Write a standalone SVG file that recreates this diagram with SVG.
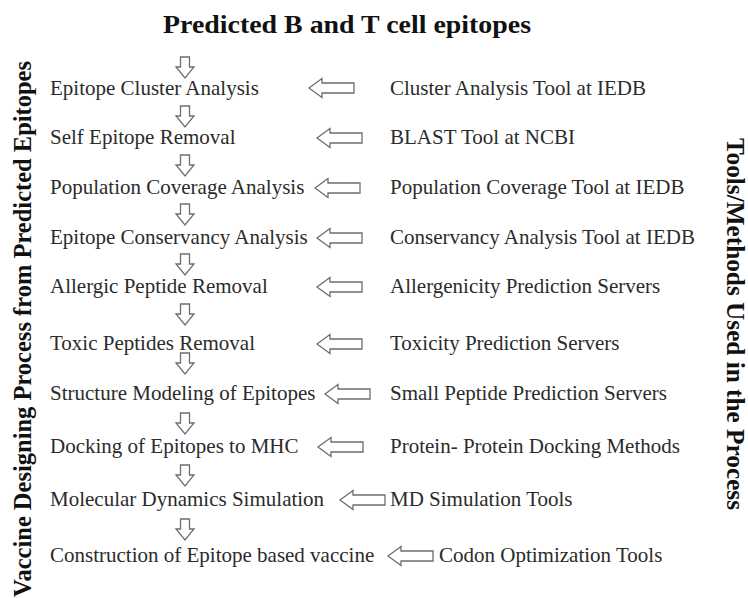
<svg xmlns="http://www.w3.org/2000/svg" xmlns:xlink="http://www.w3.org/1999/xlink" width="748" height="598" viewBox="0 0 748 598">
<style>
.title{font-family:"Liberation Serif","Times New Roman",serif;font-weight:bold;font-size:26px;fill:#111}
.side{font-family:"Liberation Serif","Times New Roman",serif;font-weight:bold;font-size:24.5px;fill:#111}
.lbl{font-family:"Liberation Serif","Times New Roman",serif;font-size:21px;fill:#2b2b2b}
.arr{fill:#fff;stroke:#6e6e6e;stroke-width:1.3;stroke-linejoin:miter}
</style>
<defs>
<path id="down" class="arr" d="M-4.5,0 H4.5 V10 H9 L0,21 L-9,10 H-4.5 Z"/>
<path id="left" class="arr" d="M0,0 L13,-9.5 L13,-5 L45,-5 L45,5 L13,5 L13,9.5 Z"/>
</defs>
<rect width="748" height="598" fill="#fff"/>
<text id="title" class="title" x="163" y="33" textLength="368" lengthAdjust="spacingAndGlyphs">Predicted B and T cell epitopes</text>
<text id="leftLabel" class="side" transform="translate(31,329) rotate(-90)" text-anchor="middle">Vaccine Designing Process from Predicted Epitopes</text>
<text id="rightLabel" class="side" transform="translate(727,324) rotate(90)" text-anchor="middle" textLength="372" lengthAdjust="spacingAndGlyphs">Tools/Methods Used in the Process</text>
<g id="connectors">
<use xlink:href="#down" x="185" y="57"/>
<use xlink:href="#down" x="185" y="106"/>
<use xlink:href="#down" x="185" y="155"/>
<use xlink:href="#down" x="185" y="204"/>
<use xlink:href="#down" x="185" y="254"/>
<use xlink:href="#down" x="185" y="304"/>
<use xlink:href="#down" x="185" y="353"/>
<use xlink:href="#down" x="185" y="413"/>
<use xlink:href="#down" x="185" y="465"/>
<use xlink:href="#down" x="185" y="519"/>
<use xlink:href="#left" x="309" y="88"/>
<use xlink:href="#left" x="317" y="138"/>
<use xlink:href="#left" x="315" y="188"/>
<use xlink:href="#left" x="317" y="238"/>
<use xlink:href="#left" x="317" y="287"/>
<use xlink:href="#left" x="317" y="344"/>
<use xlink:href="#left" x="325" y="394"/>
<use xlink:href="#left" x="318" y="447"/>
<use xlink:href="#left" x="340" y="500"/>
<use xlink:href="#left" x="388" y="556"/>
</g>
<g id="step1"><text class="lbl" x="50" y="95">Epitope Cluster Analysis</text></g>
<g id="step2"><text class="lbl" x="50" y="144">Self Epitope Removal</text></g>
<g id="step3"><text class="lbl" x="50" y="194">Population Coverage Analysis</text></g>
<g id="step4"><text class="lbl" x="50" y="244">Epitope Conservancy Analysis</text></g>
<g id="step5"><text class="lbl" x="50" y="293">Allergic Peptide Removal</text></g>
<g id="step6"><text class="lbl" x="50" y="350">Toxic Peptides Removal</text></g>
<g id="step7"><text class="lbl" x="50" y="400">Structure Modeling of Epitopes</text></g>
<g id="step8"><text class="lbl" x="50" y="453">Docking of Epitopes to MHC</text></g>
<g id="step9"><text class="lbl" x="50" y="506">Molecular Dynamics Simulation</text></g>
<g id="step10"><text class="lbl" x="50" y="562">Construction of Epitope based vaccine</text></g>
<g id="tool1"><text class="lbl" x="390" y="95">Cluster Analysis Tool at IEDB</text></g>
<g id="tool2"><text class="lbl" x="390" y="144">BLAST Tool at NCBI</text></g>
<g id="tool3"><text class="lbl" x="390" y="194">Population Coverage Tool at IEDB</text></g>
<g id="tool4"><text class="lbl" x="390" y="244">Conservancy Analysis Tool at IEDB</text></g>
<g id="tool5"><text class="lbl" x="390" y="293">Allergenicity Prediction Servers</text></g>
<g id="tool6"><text class="lbl" x="390" y="350">Toxicity Prediction Servers</text></g>
<g id="tool7"><text class="lbl" x="390" y="400">Small Peptide Prediction Servers</text></g>
<g id="tool8"><text class="lbl" x="390" y="453">Protein- Protein Docking Methods</text></g>
<g id="tool9"><text class="lbl" x="390" y="506">MD Simulation Tools</text></g>
<g id="tool10"><text class="lbl" x="439" y="562">Codon Optimization Tools</text></g>
</svg>
